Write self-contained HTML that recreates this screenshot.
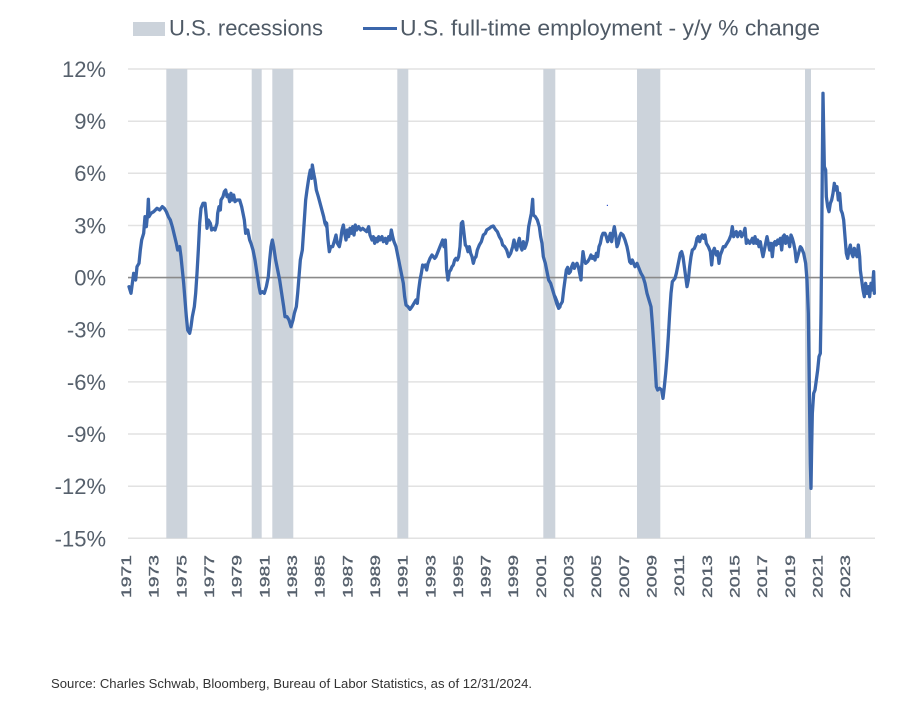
<!DOCTYPE html>
<html>
<head>
<meta charset="utf-8">
<style>
  html,body{margin:0;padding:0;background:#fff;}
  svg{display:block;}
  text{font-family:"Liberation Sans",Arial,sans-serif;}
</style>
</head>
<body>
<svg width="914" height="714" viewBox="0 0 914 714" xmlns="http://www.w3.org/2000/svg">
  <rect x="0" y="0" width="914" height="714" fill="#fff"/>

  <!-- Legend -->
  <rect x="133" y="22" width="32" height="14" fill="#ccd3db"/>
  <text x="169" y="35.5" font-size="22" fill="#4f5a66" textLength="154" lengthAdjust="spacingAndGlyphs">U.S. recessions</text>
  <line x1="363" y1="28.5" x2="397" y2="28.5" stroke="#3b66ab" stroke-width="3"/>
  <text x="400" y="35.5" font-size="22" fill="#4f5a66" textLength="420" lengthAdjust="spacingAndGlyphs">U.S. full-time employment - y/y % change</text>

  <!-- Gridlines -->
  <g stroke="#e2e2e2" stroke-width="1.5">
    <line x1="128" y1="69" x2="875" y2="69"/>
    <line x1="128" y1="121.2" x2="875" y2="121.2"/>
    <line x1="128" y1="173.2" x2="875" y2="173.2"/>
    <line x1="128" y1="225.5" x2="875" y2="225.5"/>
    <line x1="128" y1="329.7" x2="875" y2="329.7"/>
    <line x1="128" y1="381.9" x2="875" y2="381.9"/>
    <line x1="128" y1="434" x2="875" y2="434"/>
    <line x1="128" y1="486.2" x2="875" y2="486.2"/>
    <line x1="128" y1="538.3" x2="875" y2="538.3"/>
  </g>

  <!-- Recession bars -->
  <g fill="#ccd3db">
    <rect x="166.3" y="69" width="21" height="469.3"/>
    <rect x="251.7" y="69" width="10" height="469.3"/>
    <rect x="272.3" y="69" width="21" height="469.3"/>
    <rect x="397.3" y="69" width="11" height="469.3"/>
    <rect x="543.3" y="69" width="12" height="469.3"/>
    <rect x="637" y="69" width="23.3" height="469.3"/>
    <rect x="805" y="69" width="6" height="469.3"/>
  </g>

  <!-- Zero line -->
  <line x1="128" y1="277.6" x2="875" y2="277.6" stroke="#8a8a8a" stroke-width="1.6"/>

  <!-- Y labels -->
  <g font-size="22" fill="#56606c" text-anchor="end">
    <text x="106" y="77">12%</text>
    <text x="106" y="129.2">9%</text>
    <text x="106" y="181.2">6%</text>
    <text x="106" y="233.5">3%</text>
    <text x="106" y="285.6">0%</text>
    <text x="106" y="337.7">-3%</text>
    <text x="106" y="389.9">-6%</text>
    <text x="106" y="442">-9%</text>
    <text x="106" y="494.2">-12%</text>
    <text x="106" y="546.3">-15%</text>
  </g>

  <!-- X labels -->
  <g font-size="14" fill="#56606c" stroke="#56606c" stroke-width="0.35" text-anchor="end">
    <text transform="translate(131,555) rotate(-90) scale(1.38,1)">1971</text>
    <text transform="translate(158.66,555) rotate(-90) scale(1.38,1)">1973</text>
    <text transform="translate(186.32,555) rotate(-90) scale(1.38,1)">1975</text>
    <text transform="translate(213.98,555) rotate(-90) scale(1.38,1)">1977</text>
    <text transform="translate(241.64,555) rotate(-90) scale(1.38,1)">1979</text>
    <text transform="translate(269.3,555) rotate(-90) scale(1.38,1)">1981</text>
    <text transform="translate(296.96,555) rotate(-90) scale(1.38,1)">1983</text>
    <text transform="translate(324.62,555) rotate(-90) scale(1.38,1)">1985</text>
    <text transform="translate(352.28,555) rotate(-90) scale(1.38,1)">1987</text>
    <text transform="translate(379.94,555) rotate(-90) scale(1.38,1)">1989</text>
    <text transform="translate(407.6,555) rotate(-90) scale(1.38,1)">1991</text>
    <text transform="translate(435.26,555) rotate(-90) scale(1.38,1)">1993</text>
    <text transform="translate(462.92,555) rotate(-90) scale(1.38,1)">1995</text>
    <text transform="translate(490.58,555) rotate(-90) scale(1.38,1)">1997</text>
    <text transform="translate(518.24,555) rotate(-90) scale(1.38,1)">1999</text>
    <text transform="translate(545.9,555) rotate(-90) scale(1.38,1)">2001</text>
    <text transform="translate(573.56,555) rotate(-90) scale(1.38,1)">2003</text>
    <text transform="translate(601.22,555) rotate(-90) scale(1.38,1)">2005</text>
    <text transform="translate(628.88,555) rotate(-90) scale(1.38,1)">2007</text>
    <text transform="translate(656.54,555) rotate(-90) scale(1.38,1)">2009</text>
    <text transform="translate(684.2,555) rotate(-90) scale(1.38,1)">2011</text>
    <text transform="translate(711.86,555) rotate(-90) scale(1.38,1)">2013</text>
    <text transform="translate(739.52,555) rotate(-90) scale(1.38,1)">2015</text>
    <text transform="translate(767.18,555) rotate(-90) scale(1.38,1)">2017</text>
    <text transform="translate(794.84,555) rotate(-90) scale(1.38,1)">2019</text>
    <text transform="translate(822.5,555) rotate(-90) scale(1.38,1)">2021</text>
    <text transform="translate(850.16,555) rotate(-90) scale(1.38,1)">2023</text>
  </g>

  <!-- Series -->
  <g fill="none" stroke="#3b66ab" stroke-width="3.3" stroke-linejoin="round" stroke-linecap="round">
    <g transform="translate(125,150) scale(0.33333)">
      <polyline vector-effect="non-scaling-stroke" points="12,410 18,430 22,400 26,370 32,390 36,350 42,340 46,300 50,270 56,250 60,200 64,230 68,190 70,148 72,200 78,190 86,185 96,175 104,180 112,170 118,175 124,185 130,200 136,210 142,230 148,255 154,280 158,300 164,290 168,320 172,360 176,400 180,450 184,500 188,540 194,550 198,530 202,500 208,470 212,430 216,370 220,300 224,220 228,175 234,160 240,160 244,200 246,235 250,210 256,220 260,240 266,235 270,240 276,220 278,190 282,170 286,180 288,150 294,140 298,125 302,120 306,140 310,135 314,155 318,130 322,150 326,135 330,155 336,150 344,150 350,170 354,190 358,210 362,250 368,240 374,270 378,280 384,300 390,330 396,370 402,410 406,430 412,425 418,430 424,410 430,380 434,330 438,290 442,270 446,290 452,330 458,360 464,390 470,430 476,470 480,500 486,500 492,510 498,530 504,510 508,490 514,470 518,430 522,380 526,330 532,300 538,210 542,150 546,120 552,80 556,60 560,85 562,45 566,70 570,90 574,120 580,140 588,170 596,200 600,220 605,230"/>
    </g>
    <g transform="translate(320,150) scale(0.33333)">
      <polyline vector-effect="non-scaling-stroke" points="15,215 20,220 24,270 28,305 32,290 38,290 44,270 48,255 52,280 58,290 62,270 66,240 70,225 74,250 78,270 82,240 86,260 90,235 94,250 98,230 102,255 106,225 110,240 116,230 122,240 128,235 134,240 140,245 146,230 150,255 156,270 160,260 164,280 168,265 172,275 176,260 180,270 186,260 190,275 196,265 200,280 206,260 210,270 214,240 218,260 222,275 228,290 232,310 236,330 240,350 244,370 250,400 254,440 258,465 264,470 270,478 276,470 282,460 288,450 292,460 296,420 300,390 304,370 308,345 312,350 316,345 320,360 324,340 330,325 336,315 340,320 344,325 348,320 352,310 356,300 360,290 364,280 368,270 372,290 376,270 380,360 384,390 388,365 392,360 396,350 400,345 404,330 408,325 412,330 416,320 420,290 424,220 428,215 432,250 436,285 440,290 444,305 448,290 452,310 456,320 460,340 464,325 468,320 472,300 478,285 484,275 490,255 496,250 500,240 508,235 514,230 520,228 526,238 532,245 538,260 544,270 548,285 554,290 560,300 566,320 572,310 578,290 582,270 586,290 590,300 594,280 598,265 602,290 606,300 610,275 614,295 618,285 622,270 626,230 630,210 634,190 638,148 640,195 646,200 652,210 658,230 662,260 666,280 670,320 676,340 680,360 686,390 692,400 698,420 704,440 710,460 716,475 720,470"/>
    </g>
    <g transform="translate(555,180) scale(0.33333)">
      <polyline vector-effect="non-scaling-stroke" points="0,350 6,365 10,380 16,375 22,365 26,330 30,300 34,270 38,262 42,280 46,275 50,260 54,250 58,265 62,255 66,250 70,260 74,280 78,300 80,260 84,215 88,240 92,250 98,245 104,235 108,225 112,235 116,230 120,240 124,220 128,230 132,200 136,190 140,170 144,160 150,160 154,170 158,185 162,175 166,160 170,185 174,160 178,140 182,165 186,200 190,190 194,170 198,160 204,165 210,180 216,200 220,220 224,245 228,250 232,240 236,250 240,260 246,250 252,265 258,280 264,290 270,310 276,340 282,360 288,380 292,430 296,490 300,550 304,620 308,630 314,625 320,630 324,655 328,620 332,580 336,530 340,470 344,400 348,340 352,305 356,300 360,295 364,280 368,260 372,240 376,220 380,215 384,230 388,260 392,290 396,320 400,300 404,260 408,230 412,210 418,205 422,195 426,175 430,170 434,185 438,170 442,165 446,175 450,165 454,190 460,200 466,215 470,255 474,215 478,205 484,225 488,215 492,250 496,225 500,215 505,200 510,200"/>
    </g>
    <g transform="translate(715,80) scale(0.33333)">
      <polyline vector-effect="non-scaling-stroke" points="30,500 36,490 42,480 48,465 52,440 56,470 60,460 64,455 68,470 72,460 76,455 80,470 86,460 90,445 94,490 98,480 104,490 108,485 112,475 116,490 120,470 124,490 128,480 132,500 136,485 140,510 144,530 148,510 152,490 156,470 160,490 164,510 168,490 172,530 176,490 180,485 184,495 188,480 192,490 196,475 200,510 204,470 208,465 212,490 216,470 220,480 224,500 228,465 232,475 236,490 240,510 244,545 248,530 252,515 256,500 260,505 266,520 272,550 276,600 280,700 282,850 284,1000 286,1150 288,1225 290,1100 292,1000 296,940 300,930 304,900 308,870 312,830 316,820 318,700 320,500 322,250 324,40 326,150 328,260 332,270 334,350 338,380 342,395 346,370 350,360 354,340 358,310 362,330 366,320 370,360 374,340 378,390 382,400 386,420 390,470 394,520 398,535 402,510 406,495 410,520 414,530 418,505 422,520 426,530 430,495 434,530 436,570 440,600 444,630 448,650 452,610 456,640 460,620 464,650 468,610 472,630 476,575 478,640"/>
    </g>
  </g>
  <rect x="606.8" y="204.8" width="1.2" height="1.2" fill="#3355cc"/>

  <!-- Source -->
  <text x="51" y="688" font-size="13" fill="#333" textLength="481" lengthAdjust="spacingAndGlyphs">Source: Charles Schwab, Bloomberg, Bureau of Labor Statistics, as of 12/31/2024.</text>
</svg>
</body>
</html>
